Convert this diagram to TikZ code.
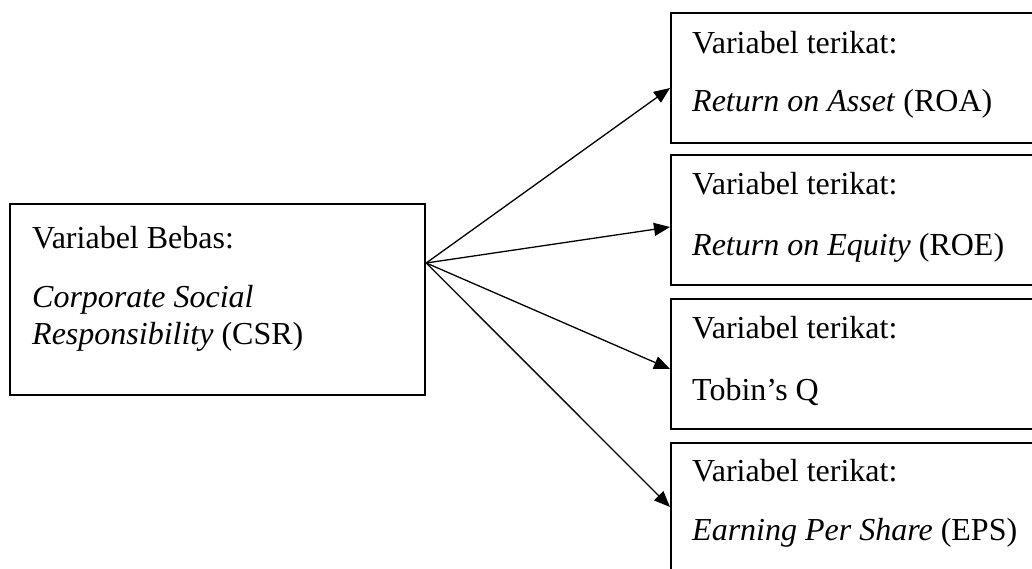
\documentclass[tikz,border=0pt]{standalone}
\usepackage{fontspec}
\setmainfont{Liberation Serif}
\usetikzlibrary{arrows.meta,calc}
\begin{document}
\begin{tikzpicture}[x=1pt,y=-1pt,
  box/.style={draw, line width=2.2pt, rectangle, inner sep=0pt, anchor=north west},
  lbl/.style={anchor=base west, inner sep=0pt, font=\fontsize{32}{37}\selectfont},
  conn/.style={line width=1.3pt, -{Triangle[length=16pt,width=13pt]}}]
\useasboundingbox (0,0) rectangle (1032,569);
\clip (0,0) rectangle (1032,569);
% left box
\node[box, minimum width=415pt, minimum height=191pt] (L) at (9,203) {};
\node[lbl] (Lt1) at ($(L.north west)+(23,45)$) {Variabel Bebas:};
\node[lbl] (Lt2) at ($(L.north west)+(23,104)$) {\textit{Corporate Social}};
\node[lbl] (Lt3) at ($(L.north west)+(23,141)$) {\textit{Responsibility} (CSR)};
% right boxes
\node[box, minimum width=450pt, minimum height=130pt] (R1) at (670,12) {};
\node[box, minimum width=450pt, minimum height=130pt] (R2) at (670,154) {};
\node[box, minimum width=450pt, minimum height=130pt] (R3) at (670,298) {};
\node[box, minimum width=450pt, minimum height=130pt] (R4) at (670,442) {};
\node[lbl] (R1a) at ($(R1.north west)+(22,42)$) {Variabel terikat:};
\node[lbl] (R1b) at ($(R1.north west)+(22,100)$) {\textit{Return on Asset} (ROA)};
\node[lbl] (R2a) at ($(R2.north west)+(22,41)$) {Variabel terikat:};
\node[lbl] (R2b) at ($(R2.north west)+(22,101)$) {\textit{Return on Equity} (ROE)};
\node[lbl] (R3a) at ($(R3.north west)+(22,40)$) {Variabel terikat:};
\node[lbl] (R3b) at ($(R3.north west)+(22,102)$) {Tobin’s Q};
\node[lbl] (R4a) at ($(R4.north west)+(22,39)$) {Variabel terikat:};
\node[lbl] (R4b) at ($(R4.north west)+(22,98)$) {\textit{Earning Per Share} (EPS)};
% connectors
\coordinate (src) at ($(L.north east)+(0,60)$);
\draw[conn] (src) -- ($(R1.north west)+(0,76)$);
\draw[conn] (src) -- ($(R2.north west)+(0,73)$);
\draw[conn] (src) -- ($(R3.north west)+(0,71)$);
\draw[conn] (src) -- ($(R4.north west)+(0,65)$);
\end{tikzpicture}
\end{document}
